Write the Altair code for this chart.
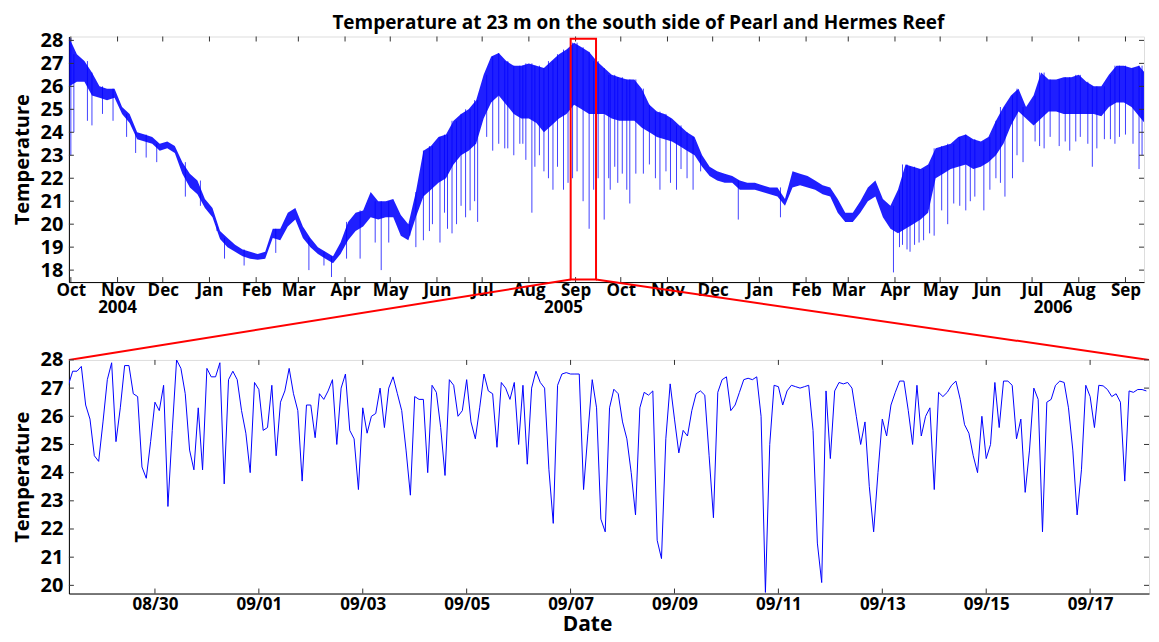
import altair as alt
import pandas as pd

TITLE = "Temperature at 23 m on the south side of Pearl and Hermes Reef"
BLUE = "#0000ff"
FONT = "Open Sans"

# ---------------- overview (top panel) ----------------
env_start = "2004-09-30"          # envelope of the dense record, one sample every 5 days
env_hi = [28.1, 27.4, 27.1, 26.6, 26.0, 25.9, 25.9, 25.1, 24.8, 24.0,
          23.9, 23.8, 23.5, 23.6, 23.4, 22.7, 22.2, 21.9, 21.1, 20.7,
          19.7, 19.4, 19.1, 18.9, 18.8, 18.7, 18.8, 19.8, 19.8, 20.5,
          20.7, 19.9, 19.4, 19.0, 18.8, 18.6, 19.2, 20.1, 20.5, 20.6,
          21.4, 21.0, 21.0, 21.1,
          20.4, 20.0, 21.4, 23.2, 23.4, 23.8,
          23.9, 24.5, 24.8, 25.0, 25.4, 26.5, 27.3, 27.45, 27.1, 26.9,
          26.9, 27.0, 26.9, 26.8, 27.1, 27.4, 27.6, 27.9, 27.7, 27.5,
          27.1, 26.8, 26.5, 26.4, 26.3, 26.3, 25.9, 25.2, 24.9, 24.8,
          24.6, 24.3, 24.0, 23.8, 23.0, 22.5, 22.3, 22.2, 22.1, 21.9,
          21.8, 21.8, 21.7, 21.6,
          21.6, 21.1, 22.3, 22.2, 22.1, 21.9,
          21.7, 21.6, 21.1, 20.5, 20.5, 21.0, 21.6, 21.9, 21.1, 20.8,
          21.5, 22.6, 22.5, 22.4, 22.6, 23.3, 23.4, 23.5, 23.8, 23.9,
          23.7, 23.6, 23.8, 24.5, 25.1, 25.6, 25.9, 25.1, 25.6, 26.6,
          26.3, 26.3, 26.4, 26.4, 26.5, 26.2, 26.0, 26.0, 26.5, 26.9,
          26.9, 26.8, 26.9, 26.5]
env_lo = [26.0, 26.2, 26.2, 25.6, 25.5, 25.4, 25.5, 24.8, 24.4, 23.7,
          23.6, 23.5, 23.2, 23.3, 23.1, 22.2, 21.6, 21.3, 20.7, 20.3,
          19.35, 19.0, 18.8, 18.6, 18.5, 18.45, 18.5, 19.4, 19.3, 19.9,
          20.2, 19.4, 19.0, 18.7, 18.5, 18.3, 18.7, 19.3, 19.7, 19.9,
          20.3, 20.2, 20.3, 20.3,
          19.5, 19.3, 20.3, 21.2, 21.5, 21.8,
          22.0, 22.6, 23.0, 23.2, 23.5, 24.6, 25.3, 25.6, 25.2, 24.8,
          24.6, 24.6, 24.4, 24.0, 24.3, 24.6, 24.8, 25.2, 25.0, 24.8,
          24.8, 24.8, 24.6, 24.5, 24.5, 24.5, 24.2, 24.0, 23.8, 23.7,
          23.6, 23.4, 23.2, 23.0, 22.5, 22.1, 21.9, 21.8, 21.8, 21.5,
          21.5, 21.5, 21.4, 21.3,
          21.2, 20.8, 21.6, 21.7, 21.6, 21.5,
          21.3, 21.2, 20.5, 20.1, 20.1, 20.5, 21.0, 21.2, 20.3, 19.8,
          19.6, 19.8, 20.0, 20.2, 20.5, 22.0, 22.2, 22.4, 22.5, 22.6,
          22.4, 22.5, 22.7, 23.0, 23.5, 24.3, 24.9, 24.6, 24.3, 24.6,
          24.9, 24.9, 24.8, 24.8, 24.8, 24.8, 24.8, 24.7, 25.1, 25.3,
          25.3, 25.1, 24.7, 24.3]

# cold spikes below the dense band: days after 2004-10-01 and lowest value
spike_day = [0, 2, 11, 14, 21, 28, 37, 43, 50, 57, 76, 86, 97, 102, 115, 136,
             158, 168, 173, 183, 192, 202, 206, 211,
             225, 229, 234, 238, 240, 245, 248, 250, 253, 256, 259, 262, 265, 268, 270,
             276, 280, 284, 288, 290, 294, 298, 300, 302, 306, 308, 311, 314, 317, 320,
             323, 327, 330, 333, 336, 340, 344, 347, 350, 354, 357, 358, 361, 363, 366,
             369, 371, 375, 380, 384, 388, 391, 395, 398, 402, 405, 409, 413, 418, 443,
             471, 546, 550, 552, 555, 557, 560, 563, 566, 570, 573, 578, 582, 586, 590,
             594, 597, 600, 606, 610, 614, 617, 620, 625, 628, 632, 640, 643, 646, 650,
             656, 660, 663, 667, 670, 675, 678, 681, 686, 690, 693, 696, 700, 705, 709, 711]
spike_low = [23.0, 24.0, 24.5, 24.3, 24.8, 24.5, 23.8, 23.1, 22.9, 22.7, 21.2, 20.8, 19.9, 18.5, 18.2, 18.75,
             18.0, 18.2, 17.7, 18.5, 18.5, 19.2, 18.0, 19.2,
             19.5, 19.0, 19.3, 19.7, 20.0, 19.2, 20.5, 19.8, 19.6, 20.0, 20.8, 20.3, 20.6, 21.0, 20.1,
             23.8, 23.2, 23.5, 23.3, 23.3, 23.0, 23.5, 23.5, 22.8, 20.5, 22.5, 23.0, 22.3, 22.0, 21.5,
             22.5, 21.5, 21.8, 22.0, 22.3, 21.0, 19.8, 21.5, 22.0, 20.2, 22.0, 21.5, 22.5, 21.8, 22.2,
             21.5, 20.9, 22.2, 22.2, 22.6, 22.0, 21.5, 22.3, 21.8, 21.5, 22.4, 22.0, 21.5, 22.3, 20.2,
             20.3, 17.9, 19.0, 19.1, 18.9, 18.8, 19.1, 19.2, 19.3, 19.6, 19.5, 20.6, 20.0, 20.9, 20.8,
             20.6, 21.0, 21.2, 20.6, 21.5, 22.0, 21.8, 21.2, 22.0, 23.0, 22.7, 23.6, 23.4, 23.3, 23.8,
             23.4, 23.6, 23.2, 23.6, 23.8, 23.5, 22.5, 23.3, 23.7, 23.7, 23.5, 23.8, 23.9, 23.5, 22.4, 23.0]

month_ticks = pd.date_range("2004-10-01", "2006-09-01", freq="MS")
top_temp_ticks = list(range(18, 29))
year_labels = ["2004", "2005", "2006"]
year_label_dates = ["2004-11-01", "2005-08-24", "2006-07-15"]

zoom_box_start = "2005-08-28 18:00"
zoom_box_end = "2005-09-14 14:00"
zoom_box_temp = [17.59, 28.07]

# ---------------- detail (bottom panel) ----------------
detail_start = "2005-08-28 08:00"   # one reading every 2 hours
detail_temp = [
    27.1, 27.6, 27.6, 27.77, 26.4, 25.9, 24.6, 24.4, 25.8, 27.3,
    27.9, 25.1, 26.3, 27.8, 27.8, 26.8, 26.7, 24.2, 23.8, 25.1,
    26.5, 26.2, 27.1, 22.8, 25.5, 28.0, 27.7, 26.8, 24.8, 24.1,
    26.3, 24.1, 27.7, 27.4, 27.4, 27.9, 23.6, 27.3, 27.6, 27.3,
    26.2, 25.4,
    24.0, 27.2, 26.95, 25.5, 25.6, 27.1, 24.6, 26.5, 26.9, 27.7,
    26.8, 26.2, 23.7, 26.4, 26.4, 25.24, 26.8, 26.6, 26.9, 27.3,
    25.0, 27.0, 27.5, 25.5, 25.2, 23.4, 26.3, 25.4, 26.0, 26.1,
    27.0, 25.6, 27.0, 27.4, 26.8, 26.2, 24.8, 23.2, 26.7, 26.6,
    26.6, 24.0,
    27.1, 26.85, 25.6, 23.9, 27.3, 27.1, 26.0, 26.2, 27.3, 25.8,
    25.2, 26.3, 27.5, 26.9, 26.8, 24.9, 27.2, 27.0, 26.6, 27.2,
    25.0, 27.1, 24.3, 27.0, 27.6, 27.2, 27.0, 24.1, 22.2, 27.1,
    27.5, 27.55, 27.5, 27.5, 27.5, 23.4, 25.4, 27.3, 26.3, 22.35,
    21.9,
    26.3, 26.96, 26.8, 25.8, 25.2, 24.0, 22.5, 26.3, 26.85, 26.75,
    26.9, 21.6, 20.95, 25.2, 27.15, 25.9, 24.7, 25.5, 25.3, 26.2,
    26.8, 26.9, 26.75, 24.6, 22.4, 26.85, 27.3, 27.4, 26.2, 26.4,
    26.85, 27.3, 27.35, 27.3, 27.4, 26.0, 19.75, 25.0, 27.1, 27.05,
    26.4, 26.9,
    27.1, 27.05, 27.0, 27.05, 27.1, 25.5, 21.5, 20.1, 26.9, 24.5,
    26.9, 27.2, 27.15, 27.2, 27.0, 26.0, 25.0, 25.8, 23.5, 21.9,
    24.0, 25.9, 25.3, 26.4, 26.85, 27.25, 27.25, 26.2, 25.0, 27.1,
    25.3, 26.0, 26.3, 23.4, 26.85, 26.7, 26.85, 27.1, 27.25, 26.6,
    25.7,
    25.4, 24.6, 24.0, 26.0, 24.5, 25.0, 27.2, 25.6, 27.25, 27.25,
    27.1, 25.2, 25.9, 23.3, 24.8, 27.0, 26.6, 21.9, 26.5, 26.6,
    27.1, 27.25, 27.2, 26.3, 24.8, 22.5, 24.1, 27.1, 26.7, 25.6,
    27.1, 27.08, 26.95, 26.7, 26.8, 26.5, 23.7, 26.9, 26.85, 26.95,
    26.95, 26.9,
]
detail_date_ticks = pd.date_range("2005-08-30", "2005-09-17", freq="2D")
bottom_temp_ticks = list(range(20, 29))

# ---------------- tables ----------------
env = pd.DataFrame({"date": pd.date_range(env_start, periods=len(env_hi), freq="5D"),
                    "hi": env_hi, "lo": env_lo})
spikes = pd.DataFrame({"date": pd.Timestamp("2004-10-01") + pd.to_timedelta(spike_day, unit="D"),
                       "low": spike_low})
spikes = pd.merge_asof(spikes.sort_values("date"), env[["date", "hi"]], on="date", direction="nearest")
box = pd.DataFrame({"start": [pd.Timestamp(zoom_box_start)], "end": [pd.Timestamp(zoom_box_end)],
                    "ylo": [zoom_box_temp[0]], "yhi": [zoom_box_temp[1]]})
years = pd.DataFrame({"date": pd.to_datetime(year_label_dates), "label": year_labels})
mticks = pd.DataFrame({"date": month_ticks})
tticks_top = pd.DataFrame({"temp": top_temp_ticks})
detail = pd.DataFrame({"date": pd.date_range(detail_start, periods=len(detail_temp), freq="2h"),
                       "temp": detail_temp})
dticks = pd.DataFrame({"date": detail_date_ticks})
tticks_bot = pd.DataFrame({"temp": bottom_temp_ticks})


def dt(ts):
    ts = pd.Timestamp(ts)
    return alt.DateTime(year=ts.year, month=ts.month, date=ts.day, hours=ts.hour, minutes=ts.minute)


W_TOP, H_TOP = 1077, 246
W_BOT, H_BOT = 1082, 234
GAP = 78
TICK = 5
TICK_COLOR = "#333333"

top_xscale = alt.Scale(domain=[dt("2004-09-29 16:48"), dt("2006-09-13 07:12")])
top_yscale = alt.Scale(domain=[17.48, 28.17], nice=False, zero=False)
top_xaxis = alt.Axis(values=[dt(d) for d in month_ticks], format="%b", title=None, grid=False,
                     tickSize=0, labelPadding=0, labelFontSize=17, labelFontWeight="bold",
                     labelFont=FONT, labelColor="black", domainColor="black", labelFlush=False)
top_yaxis = alt.Axis(values=top_temp_ticks, title="Temperature", grid=False, tickSize=0,
                     labelPadding=6, labelFontSize=20, labelFontWeight="bold", labelFont=FONT,
                     labelColor="black", titleFontSize=20, titleFontWeight="bold", titleFont=FONT,
                     titleColor="black", titlePadding=8, domainColor="black")


def xt(field):
    return alt.X(field, type="temporal", scale=top_xscale, axis=top_xaxis)


def yt(field):
    return alt.Y(field, type="quantitative", scale=top_yscale, axis=top_yaxis)


band = alt.Chart(env).mark_area(color=BLUE, opacity=0.88, clip=True).encode(
    x=xt("date"), y=yt("hi"), y2="lo")
spike_rules = alt.Chart(spikes).mark_rule(color=BLUE, strokeWidth=1, opacity=0.75, clip=True).encode(
    x=xt("date"), y=yt("low"), y2="hi")
box_rect = alt.Chart(box).mark_rect(fillOpacity=0, stroke="red", strokeWidth=2).encode(
    x=xt("start"), x2="end", y=yt("ylo"), y2="yhi")
conn_left = alt.Chart(box).mark_rule(color="red", strokeWidth=2).encode(
    x=xt("start"), y=yt("ylo"), x2=alt.value(0), y2=alt.value(H_TOP + GAP))
conn_right = alt.Chart(box).mark_rule(color="red", strokeWidth=2).encode(
    x=xt("end"), y=yt("ylo"), x2=alt.value(W_BOT), y2=alt.value(H_TOP + GAP))
year_text = alt.Chart(years).mark_text(fontSize=17, fontWeight="bold", font=FONT, color="black",
                                       baseline="alphabetic").encode(
    x=xt("date"), y=alt.value(H_TOP + 31), text="label:N")
top_xt_b = alt.Chart(mticks).mark_rule(color=TICK_COLOR).encode(
    x=xt("date"), y=alt.value(H_TOP), y2=alt.value(H_TOP - TICK))
top_xt_t = alt.Chart(mticks).mark_rule(color=TICK_COLOR).encode(
    x=xt("date"), y=alt.value(0), y2=alt.value(TICK))
top_yt_l = alt.Chart(tticks_top).mark_rule(color=TICK_COLOR).encode(
    y=yt("temp"), x=alt.value(0), x2=alt.value(TICK))
top_yt_r = alt.Chart(tticks_top).mark_rule(color=TICK_COLOR).encode(
    y=yt("temp"), x=alt.value(W_TOP), x2=alt.value(W_TOP - TICK))

top = alt.layer(band, spike_rules, top_xt_b, top_xt_t, top_yt_l, top_yt_r, box_rect,
                conn_left, conn_right, year_text).properties(
    width=W_TOP, height=H_TOP,
    title=alt.TitleParams(TITLE, fontSize=19, font=FONT, fontWeight="bold", color="black",
                          anchor="middle", dx=32, offset=-3))

bot_xscale = alt.Scale(domain=[dt("2005-08-28 08:15"), dt("2005-09-18 03:12")])
bot_yscale = alt.Scale(domain=[19.71, 28.0], nice=False, zero=False)
bot_xaxis = alt.Axis(values=[dt(d) for d in detail_date_ticks], format="%m/%d", title="Date",
                     grid=False, tickSize=0, labelPadding=3, labelFontSize=17, labelFontWeight="bold",
                     labelFont=FONT, labelColor="black", titleFontSize=21, titleFontWeight="bold",
                     titleFont=FONT, titleColor="black", titlePadding=1, domainColor="black",
                     titleX=519)
bot_yaxis = alt.Axis(values=bottom_temp_ticks, title="Temperature", grid=False, tickSize=0,
                     labelPadding=6, labelFontSize=20, labelFontWeight="bold", labelFont=FONT,
                     labelColor="black", titleFontSize=20, titleFontWeight="bold", titleFont=FONT,
                     titleColor="black", titlePadding=8, domainColor="black")


def xb(field):
    return alt.X(field, type="temporal", scale=bot_xscale, axis=bot_xaxis)


def yb(field):
    return alt.Y(field, type="quantitative", scale=bot_yscale, axis=bot_yaxis)


detail_line = alt.Chart(detail).mark_line(color=BLUE, strokeWidth=1, clip=True).encode(
    x=xb("date"), y=yb("temp"))
bot_xt_b = alt.Chart(dticks).mark_rule(color=TICK_COLOR).encode(
    x=xb("date"), y=alt.value(H_BOT), y2=alt.value(H_BOT - TICK))
bot_xt_t = alt.Chart(dticks).mark_rule(color=TICK_COLOR).encode(
    x=xb("date"), y=alt.value(0), y2=alt.value(TICK))
bot_yt_l = alt.Chart(tticks_bot).mark_rule(color=TICK_COLOR).encode(
    y=yb("temp"), x=alt.value(0), x2=alt.value(TICK))
bot_yt_r = alt.Chart(tticks_bot).mark_rule(color=TICK_COLOR).encode(
    y=yb("temp"), x=alt.value(W_BOT), x2=alt.value(W_BOT - TICK))

bottom = alt.layer(detail_line, bot_xt_b, bot_xt_t, bot_yt_l, bot_yt_r).properties(
    width=W_BOT, height=H_BOT)

chart = alt.vconcat(top, bottom, spacing=GAP, bounds="flush").properties(
    padding={"left": 3, "top": 5, "right": 0, "bottom": 0}
).configure_view(stroke="#808080", strokeWidth=1).configure(font=FONT)

chart.save("out.html", embed_options={"renderer": "svg", "actions": False})
